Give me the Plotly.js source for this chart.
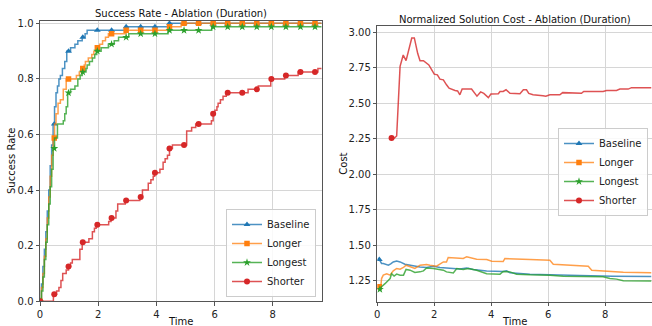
<!DOCTYPE html>
<html><head><meta charset="utf-8">
<script src="https://cdn.plot.ly/plotly-3.0.1.min.js"></script>
<style>html,body{margin:0;padding:0;background:#fff}#chart{width:652px;height:326px}</style>
</head><body><div id="chart"></div>
<script>
// ---------- series ----------
const seriesNames = ['Baseline', 'Longer', 'Longest', 'Shorter'];

// Success rate (step data: time at which the value is reached)
const srBaselineT = [0, 0.05, 0.1, 0.15, 0.2, 0.25, 0.3, 0.35, 0.4, 0.45, 0.5, 0.55, 0.6, 0.65, 0.7, 0.77, 0.85, 0.92, 1.05, 1.2, 1.3, 1.45, 1.55, 1.62, 2.95, 4.42];
const srBaselineV = [0, 0.0625, 0.125, 0.1875, 0.25, 0.325, 0.4, 0.4875, 0.5625, 0.6375, 0.7, 0.75, 0.775, 0.8, 0.8125, 0.8375, 0.8625, 0.9, 0.9125, 0.925, 0.9375, 0.95, 0.9625, 0.975, 0.9875, 1.0];

const srLongerT = [0, 0.05, 0.1, 0.15, 0.2, 0.25, 0.3, 0.35, 0.4, 0.45, 0.5, 0.55, 0.62, 0.7, 0.8, 0.9, 1.25, 1.35, 1.42, 1.52, 1.56, 1.66, 1.78, 1.85, 1.93, 2.05, 2.15, 2.25, 2.35, 2.95, 4.42, 4.85];
const srLongerV = [0, 0.05, 0.1, 0.1625, 0.225, 0.3, 0.375, 0.45, 0.525, 0.5875, 0.6375, 0.675, 0.7125, 0.725, 0.7625, 0.8, 0.8125, 0.825, 0.8375, 0.85, 0.8625, 0.875, 0.8875, 0.9, 0.9125, 0.925, 0.9375, 0.95, 0.9625, 0.975, 0.9875, 1.0];

const srLongestT = [0, 0.05, 0.1, 0.15, 0.2, 0.25, 0.3, 0.35, 0.4, 0.45, 0.5, 0.6, 0.8, 0.85, 0.9, 0.95, 1.05, 1.2, 1.3, 1.38, 1.45, 1.58, 1.62, 1.7, 1.8, 1.88, 1.95, 2.1, 2.35, 2.55, 2.7, 3.05, 4.4, 5.9];
const srLongestV = [0, 0.0375, 0.0875, 0.15, 0.2125, 0.275, 0.35, 0.4125, 0.475, 0.55, 0.5875, 0.6375, 0.65, 0.675, 0.7, 0.75, 0.7625, 0.775, 0.8, 0.8125, 0.825, 0.8375, 0.85, 0.8625, 0.875, 0.8875, 0.9, 0.9125, 0.925, 0.9375, 0.95, 0.9625, 0.975, 0.9875];

const srShorterT = [0, 0.46, 0.57, 0.65, 0.72, 0.78, 0.9, 0.98, 1.05, 1.11, 1.37, 1.45, 1.68, 1.8, 1.87, 1.93, 2.36, 2.44, 2.61, 2.67, 2.93, 3.43, 3.52, 3.72, 3.81, 3.89, 3.94, 4.12, 4.23, 4.3, 4.38, 4.45, 4.55, 5.04, 5.21, 5.35, 5.89, 5.95, 6.01, 6.08, 6.12, 6.2, 6.29, 6.4, 7.15, 7.5, 7.93, 8.41, 8.87, 9.55];
const srShorterV = [0, 0.025, 0.0375, 0.05, 0.075, 0.1, 0.1125, 0.125, 0.1375, 0.15, 0.1875, 0.2125, 0.225, 0.25, 0.2625, 0.275, 0.2875, 0.3, 0.325, 0.35, 0.3625, 0.375, 0.4, 0.425, 0.4375, 0.45, 0.4625, 0.475, 0.5, 0.5125, 0.525, 0.55, 0.5625, 0.6125, 0.625, 0.6375, 0.65, 0.675, 0.6875, 0.7, 0.7125, 0.725, 0.7375, 0.75, 0.7625, 0.775, 0.8, 0.8125, 0.825, 0.8375];

const srMarkTimes = [0, 0.49, 0.98, 1.47, 1.97, 2.46, 2.96, 3.46, 3.95, 4.45, 4.95, 5.45, 5.95, 6.45, 6.95, 7.45, 7.95, 8.45, 8.95, 9.45];
const srEndTime = 9.68;

// Normalized solution cost
const costBaselineT = [0.07, 0.1, 0.15, 0.21, 0.3, 0.39, 0.47, 0.56, 0.68, 0.8, 0.97, 1.2, 1.5, 1.73, 1.97, 2.2, 2.55, 2.9, 3.14, 3.37, 3.84, 4.19, 4.42, 4.54, 4.66, 5.36, 6.06, 7.11, 8.28, 9.63];
const costBaselineV = [1.40, 1.385, 1.372, 1.372, 1.365, 1.36, 1.37, 1.383, 1.39, 1.383, 1.367, 1.358, 1.348, 1.344, 1.353, 1.344, 1.337, 1.334, 1.341, 1.33, 1.32, 1.316, 1.316, 1.32, 1.306, 1.297, 1.292, 1.287, 1.283, 1.28];

const costLongerT = [0.07, 0.12, 0.15, 0.21, 0.33, 0.45, 0.56, 0.68, 0.8, 0.92, 1.01, 1.15, 1.32, 1.5, 1.73, 1.85, 2.08, 2.32, 2.43, 2.49, 2.79, 3.02, 3.14, 3.25, 3.49, 3.84, 4.02, 4.42, 4.48, 5.36, 6.06, 6.18, 7.0, 7.41, 7.53, 8.05, 8.64, 9.63];
const costLongerV = [1.208, 1.203, 1.266, 1.29, 1.30, 1.29, 1.32, 1.337, 1.332, 1.344, 1.36, 1.348, 1.337, 1.36, 1.365, 1.36, 1.353, 1.383, 1.383, 1.414, 1.412, 1.407, 1.42, 1.414, 1.402, 1.40, 1.388, 1.386, 1.407, 1.40, 1.395, 1.367, 1.358, 1.353, 1.325, 1.316, 1.31, 1.306];

const costLongestT = [0.09, 0.15, 0.27, 0.45, 0.5, 0.59, 0.68, 0.8, 0.92, 1.01, 1.15, 1.32, 1.5, 1.62, 1.73, 1.97, 2.32, 2.43, 2.67, 2.79, 3.02, 3.2, 3.49, 3.84, 4.31, 4.42, 4.66, 4.89, 5.36, 6.06, 6.53, 7.93, 8.17, 8.4, 8.64, 9.63];
const costLongestV = [1.19, 1.208, 1.23, 1.266, 1.30, 1.283, 1.297, 1.29, 1.29, 1.33, 1.325, 1.309, 1.313, 1.32, 1.341, 1.337, 1.325, 1.313, 1.306, 1.337, 1.33, 1.337, 1.325, 1.30, 1.297, 1.316, 1.313, 1.297, 1.292, 1.29, 1.283, 1.278, 1.266, 1.262, 1.25, 1.248];

const costShorterT = [0.5, 0.6, 0.68, 0.8, 0.91, 1.01, 1.21, 1.30, 1.42, 1.50, 1.62, 1.73, 1.81, 2.0, 2.11, 2.2, 2.32, 2.43, 2.52, 2.73, 2.82, 2.9, 2.98, 3.31, 3.5, 3.63, 3.74, 3.9, 3.99, 4.25, 4.31, 4.42, 4.52, 4.66, 5.01, 5.13, 5.24, 5.32, 5.47, 5.82, 5.92, 6.06, 6.41, 6.51, 6.88, 7.0, 7.17, 7.25, 7.93, 8.05, 8.4, 8.52, 8.81, 8.93, 9.63];
const costShorterV = [2.255, 2.255, 2.27, 2.76, 2.84, 2.80, 2.96, 2.96, 2.85, 2.80, 2.80, 2.78, 2.77, 2.705, 2.70, 2.67, 2.665, 2.63, 2.606, 2.59, 2.587, 2.56, 2.60, 2.60, 2.55, 2.58, 2.57, 2.54, 2.565, 2.567, 2.583, 2.583, 2.595, 2.57, 2.567, 2.595, 2.595, 2.57, 2.56, 2.553, 2.55, 2.56, 2.56, 2.575, 2.575, 2.57, 2.57, 2.583, 2.583, 2.59, 2.59, 2.60, 2.60, 2.61, 2.61];

const xTickVals = [0, 2, 4, 6, 8];
const xTickText = ['0', '2', '4', '6', '8'];
const srTickVals = [0, 0.2, 0.4, 0.6, 0.8, 1.0];
const srTickText = ['0.0', '0.2', '0.4', '0.6', '0.8', '1.0'];
const costTickVals = [1.25, 1.5, 1.75, 2.0, 2.25, 2.5, 2.75, 3.0];
const costTickText = ['1.25', '1.50', '1.75', '2.00', '2.25', '2.50', '2.75', '3.00'];

// ---------- styling ----------
const colors = ['#1f77b4', '#ff7f0e', '#2ca02c', '#d62728'];
const lineColors = ['rgba(31,119,180,0.8)', 'rgba(255,127,14,0.75)', 'rgba(44,160,44,0.8)', 'rgba(214,39,40,0.8)'];
const symbols = ['triangle-up', 'square', 'star', 'circle'];
const msizes = [6, 5.5, 6, 6];
const FONT = 'DejaVu Sans, Liberation Sans, sans-serif';

function stepValue(T, V, t) {
  let v = V[0];
  for (let i = 0; i < T.length; i++) { if (T[i] <= t + 1e-9) v = V[i]; else break; }
  return v;
}

function buildStep(T, V, marks, tEnd) {
  const set = new Set(T.concat(marks).concat([tEnd]));
  const xs = Array.from(set).sort((a, b) => a - b);
  const ys = xs.map(t => stepValue(T, V, t));
  const mc = xs.map(t => marks.indexOf(t) >= 0);
  return {xs, ys, mc};
}

const srT = [srBaselineT, srLongerT, srLongestT, srShorterT];
const srV = [srBaselineV, srLongerV, srLongestV, srShorterV];
const cT = [costBaselineT, costLongerT, costLongestT, costShorterT];
const cV = [costBaselineV, costLongerV, costLongestV, costShorterV];

const traces = [];
seriesNames.forEach((name, i) => {
  const s = buildStep(srT[i], srV[i], srMarkTimes, srEndTime);
  traces.push({
    x: s.xs, y: s.ys, name: name, mode: 'lines+markers', type: 'scatter',
    xaxis: 'x', yaxis: 'y', legend: 'legend',
    line: {color: lineColors[i], width: 1.5, shape: 'hv'},
    marker: {symbol: symbols[i], size: msizes[i], line: {width: 0},
      color: s.mc.map(m => m ? colors[i] : 'rgba(0,0,0,0)')},
    hoverinfo: 'skip'
  });
});
seriesNames.forEach((name, i) => {
  traces.push({
    x: cT[i], y: cV[i], name: name, mode: 'lines+markers', type: 'scatter',
    xaxis: 'x2', yaxis: 'y2', legend: 'legend2',
    line: {color: lineColors[i], width: 1.5},
    marker: {symbol: symbols[i], size: msizes[i], line: {width: 0},
      color: cT[i].map((t, k) => k === 0 ? colors[i] : 'rgba(0,0,0,0)')},
    hoverinfo: 'skip'
  });
});

const axisCommon = {
  showgrid: true, gridcolor: '#d6d6d6', gridwidth: 1,
  showline: true, linecolor: '#555', linewidth: 1, mirror: true,
  ticks: 'outside', ticklen: 3.5, tickcolor: '#555', tickwidth: 1,
  zeroline: false, tickfont: {family: FONT, size: 10, color: '#222'},
  fixedrange: true
};

const legendCommon = {
  bgcolor: 'rgba(255,255,255,0.85)', bordercolor: '#cccccc', borderwidth: 1,
  font: {family: FONT, size: 10, color: '#222'}, tracegroupgap: 0, itemwidth: 30
};

const W = 652, H = 326;
const px = v => v / W, py = v => (H - v) / H;

const layout = {
  width: W, height: H, margin: {l: 0, r: 0, t: 0, b: 0},
  paper_bgcolor: '#fff', plot_bgcolor: '#fff', showlegend: true,
  font: {family: FONT, size: 10, color: '#222'},
  xaxis: Object.assign({}, axisCommon, {domain: [px(40), px(321.7)], range: [0, srEndTime], tickvals: xTickVals, ticktext: xTickText, anchor: 'y'}),
  yaxis: Object.assign({}, axisCommon, {domain: [py(301.3), py(20.7)], range: [0, 1.0095], tickvals: srTickVals, ticktext: srTickText, anchor: 'x'}),
  xaxis2: Object.assign({}, axisCommon, {domain: [px(377.3), px(651.5)], range: [0, 9.63], tickvals: xTickVals, ticktext: xTickText, anchor: 'y2'}),
  yaxis2: Object.assign({}, axisCommon, {domain: [py(301.7), py(26.3)], range: [1.103, 3.042], tickvals: costTickVals, ticktext: costTickText, anchor: 'x2'}),
  legend: Object.assign({}, legendCommon, {x: px(316), xanchor: 'right', y: py(297), yanchor: 'bottom'}),
  legend2: Object.assign({}, legendCommon, {x: px(648), xanchor: 'right', y: py(128), yanchor: 'top'}),
  annotations: [
    {text: 'Success Rate - Ablation (Duration)', x: px(180.85), y: py(13.3), xref: 'paper', yref: 'paper', xanchor: 'center', yanchor: 'middle', showarrow: false, font: {family: FONT, size: 10, color: '#111'}},
    {text: 'Normalized Solution Cost - Ablation (Duration)', x: px(514.5), y: py(19.3), xref: 'paper', yref: 'paper', xanchor: 'center', yanchor: 'middle', showarrow: false, font: {family: FONT, size: 10, color: '#111'}},
    {text: 'Time', x: px(180.85), y: py(321.5), xref: 'paper', yref: 'paper', xanchor: 'center', yanchor: 'middle', showarrow: false, font: {family: FONT, size: 10, color: '#111'}},
    {text: 'Time', x: px(514.5), y: py(321.5), xref: 'paper', yref: 'paper', xanchor: 'center', yanchor: 'middle', showarrow: false, font: {family: FONT, size: 10, color: '#111'}},
    {text: 'Success Rate', x: px(11), y: py(161), xref: 'paper', yref: 'paper', xanchor: 'center', yanchor: 'middle', textangle: -90, showarrow: false, font: {family: FONT, size: 10, color: '#111'}},
    {text: 'Cost', x: px(342.7), y: py(164), xref: 'paper', yref: 'paper', xanchor: 'center', yanchor: 'middle', textangle: -90, showarrow: false, font: {family: FONT, size: 10, color: '#111'}}
  ]
};

Plotly.newPlot('chart', traces, layout, {staticPlot: true, displayModeBar: false});
</script>
</body></html>
